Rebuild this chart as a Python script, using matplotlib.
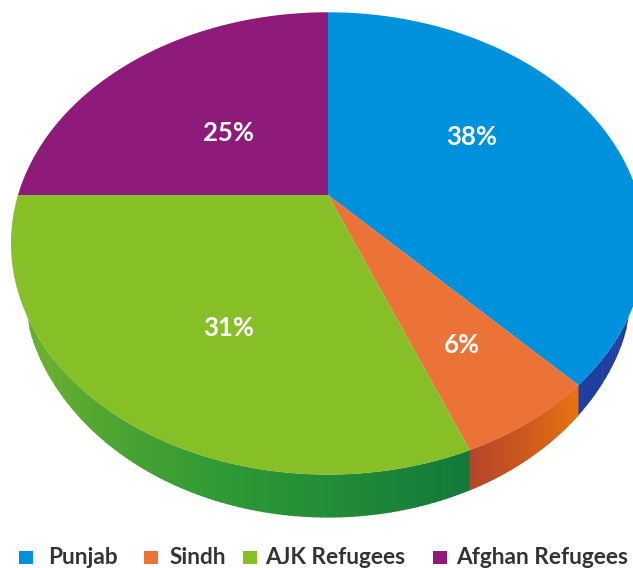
import numpy as np
import matplotlib.pyplot as plt
from matplotlib.colors import LinearSegmentedColormap

# shares, clockwise from the top
regions = ['Punjab', 'Sindh', 'AJK Refugees', 'Afghan Refugees']
shares = [38, 6, 31, 25]
pct_labels = ['38%', '6%', '31%', '25%']
colors = ['#0091DC', '#EC7338', '#87BF26', '#8E1A7A']

# rim shading per slice, from start of slice to end of slice
rim_colors = [['#1F3FA0', '#1F3FA0'],
              ['#E87410', '#B5452A'],
              ['#137A3A', '#2F9A35', '#6AAE2E', '#2EA836'],
              ['#8E1A7A', '#8E1A7A']]

label_xy = [(472, 137), (462, 345), (229, 328), (228, 133)]
legend_square_x = [19, 144, 243, 433]
legend_text_x = [48, 170, 265, 456]

# perspective of the tilted disc, in pixels
cx, cy = 328, 195
a, b, k = 221, 310, 0.2095


def rim(t):
    x = np.sin(t)
    y = np.cos(t)
    d = 1 + k * y
    return cx + b * x / d, cy - a * y / d


def depth(t):
    c = np.clip((-np.cos(t) - 0.5) / 0.5, 0, 1)
    return 43 * c ** 0.45


plt.rcParams['font.family'] = ['Lato', 'DejaVu Sans']
fig = plt.figure(figsize=(6.33, 5.68), dpi=100)
ax = fig.add_axes([0, 0, 1, 1])
ax.set_xlim(0, 633)
ax.set_ylim(568, 0)
ax.axis('off')

edges = np.cumsum([0] + shares) / sum(shares) * 2 * np.pi

# side of the disc first
for i in range(len(shares)):
    cmap = LinearSegmentedColormap.from_list('rim', rim_colors[i])
    ts = np.linspace(edges[i], edges[i + 1], 120)
    for j in range(len(ts) - 1):
        t = np.array([ts[j], ts[j + 1] + 0.003])
        if depth(t).max() == 0:
            continue
        x, y = rim(t)
        ax.fill([x[0], x[1], x[1], x[0]],
                [y[0], y[1], y[1] + depth(t[1]), y[0] + depth(t[0])],
                color=cmap(j / (len(ts) - 2)), lw=0)

# top face
for i in range(len(shares)):
    ts = np.linspace(edges[i], edges[i + 1], 200)
    x, y = rim(ts)
    ax.fill(np.r_[cx, x], np.r_[cy, y], color=colors[i], lw=0)
    ax.text(label_xy[i][0], label_xy[i][1], pct_labels[i], color='white',
            fontsize=18.5, fontweight='bold', ha='center', va='center')

# legend
for i in range(len(regions)):
    ax.fill([legend_square_x[i], legend_square_x[i] + 14, legend_square_x[i] + 14, legend_square_x[i]],
            [551, 551, 564, 564], color=colors[i], lw=0)
    ax.text(legend_text_x[i], 557, regions[i], color='#333333', fontsize=16.3,
            fontweight='bold', ha='left', va='center')

fig.savefig('out.png', dpi=100)
